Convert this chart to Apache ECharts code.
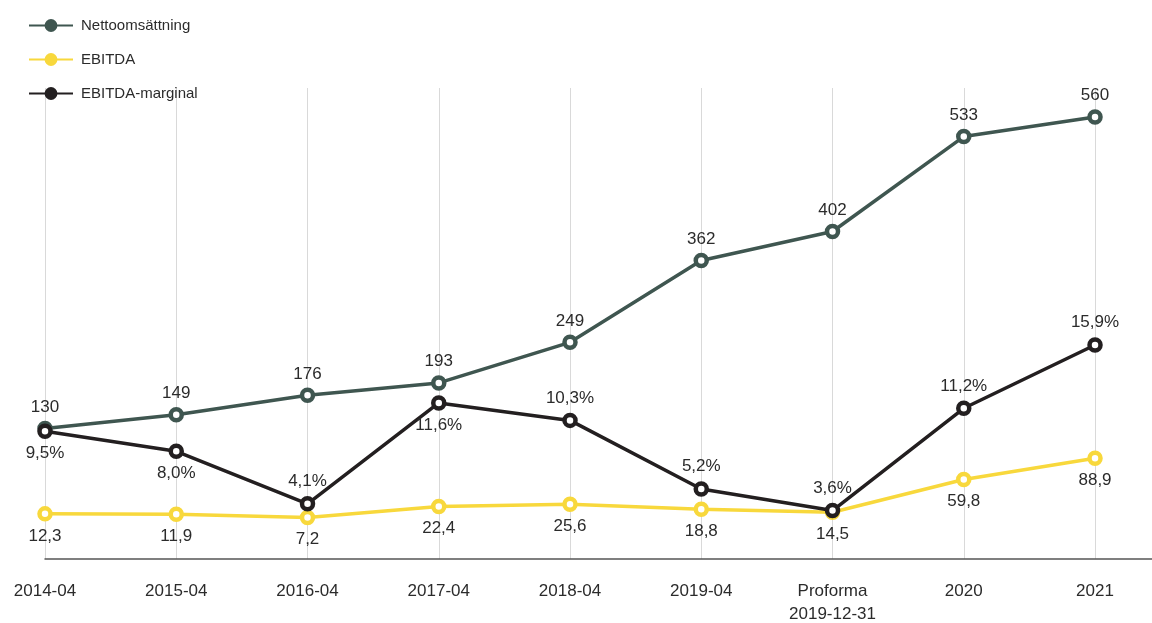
<!DOCTYPE html>
<html>
<head>
<meta charset="utf-8">
<script src="https://cdn.jsdelivr.net/npm/echarts@6/dist/echarts.min.js"></script>
<style>
    html, body {margin: 0; padding: 0; background: #fff;}
    #chart {width: 1152px; height: 623px;}
</style>
</head>
<body>
<div id="chart"></div>
<script>
const categories = ["2014-04", "2015-04", "2016-04", "2017-04", "2018-04", "2019-04", "Proforma\n2019-12-31", "2020", "2021"];
const nettoomsattning = [130, 149, 176, 193, 249, 362, 402, 533, 560];
const ebitda = [12.3, 11.9, 7.2, 22.4, 25.6, 18.8, 14.5, 59.8, 88.9];
const ebitdaMarginal = [9.5, 8.0, 4.1, 11.6, 10.3, 5.2, 3.6, 11.2, 15.9];
const marginalLabelSide = ["bottom", "bottom", "top", "bottom", "top", "top", "top", "top", "top"];

const colors = {netto: "#3f5650", ebitda: "#f8d83c", marginal: "#231f20"};

const chart = echarts.init(document.getElementById("chart"));
const font = "'Liberation Sans', Arial, sans-serif";
const comma = v => v.toFixed(1).replace(".", ",");

const labelStyle = {fontSize: 17, color: "#2b2b2b", fontFamily: font};
const symbolStyle = color => ({color: "#fff", borderColor: color, borderWidth: 4.5});

chart.setOption({
    animation: false,
    legend: {
        orient: "vertical",
        left: 23,
        top: 13,
        itemWidth: 44,
        itemHeight: 16,
        itemGap: 19,
        textStyle: {fontSize: 15, color: "#2b2b2b", fontFamily: font, padding: [0, 0, 0, 3]},
        data: [
            {name: "Nettoomsättning", itemStyle: {color: colors.netto, borderWidth: 0}},
            {name: "EBITDA", itemStyle: {color: colors.ebitda, borderWidth: 0}},
            {name: "EBITDA-marginal", itemStyle: {color: colors.marginal, borderWidth: 0}}
        ]
    },
    grid: {left: 45, width: 1110, top: 88, bottom: 64, outerBoundsMode: "none"},
    xAxis: {
        type: "value",
        min: 0,
        max: 8.457,
        interval: 1,
        axisLine: {show: true, onZero: false, lineStyle: {color: "#555", width: 1.5}},
        axisTick: {show: false},
        splitLine: {show: true, lineStyle: {color: "#d9d9d9", width: 1}},
        axisLabel: {
            margin: 21,
            fontSize: 17,
            lineHeight: 23,
            color: "#2b2b2b",
            fontFamily: font,
            showMaxLabel: false,
            formatter: v => Number.isInteger(v) && categories[v] !== undefined ? categories[v] : ""
        }
    },
    yAxis: [
        {type: "value", min: -50, max: 600, show: false, splitLine: {show: false}},
        {type: "value", min: 0, max: 35, show: false, splitLine: {show: false}}
    ],
    series: [
        {
            name: "Nettoomsättning",
            type: "line",
            yAxisIndex: 0,
            data: nettoomsattning.map((v, i) => [i, v]),
            symbol: "circle",
            symbolSize: 11,
            color: colors.netto,
            lineStyle: {width: 3.5, color: colors.netto},
            itemStyle: symbolStyle(colors.netto),
            label: {show: true, position: "top", distance: 5, ...labelStyle, formatter: p => p.value[1]},
            z: 2
        },
        {
            name: "EBITDA",
            type: "line",
            yAxisIndex: 0,
            data: ebitda.map((v, i) => [i, v]),
            symbol: "circle",
            symbolSize: 11,
            color: colors.ebitda,
            lineStyle: {width: 3.5, color: colors.ebitda},
            itemStyle: symbolStyle(colors.ebitda),
            label: {show: true, position: "bottom", distance: 6, ...labelStyle, formatter: p => comma(p.value[1])},
            z: 3
        },
        {
            name: "EBITDA-marginal",
            type: "line",
            yAxisIndex: 1,
            data: ebitdaMarginal.map((v, i) => ({
                value: [i, v],
                label: {position: marginalLabelSide[i]}
            })),
            symbol: "circle",
            symbolSize: 11,
            color: colors.marginal,
            lineStyle: {width: 3.5, color: colors.marginal},
            itemStyle: symbolStyle(colors.marginal),
            label: {show: true, distance: 6, ...labelStyle, formatter: p => comma(p.value[1]) + "%"},
            z: 4
        }
    ]
});
</script>
</body>
</html>
